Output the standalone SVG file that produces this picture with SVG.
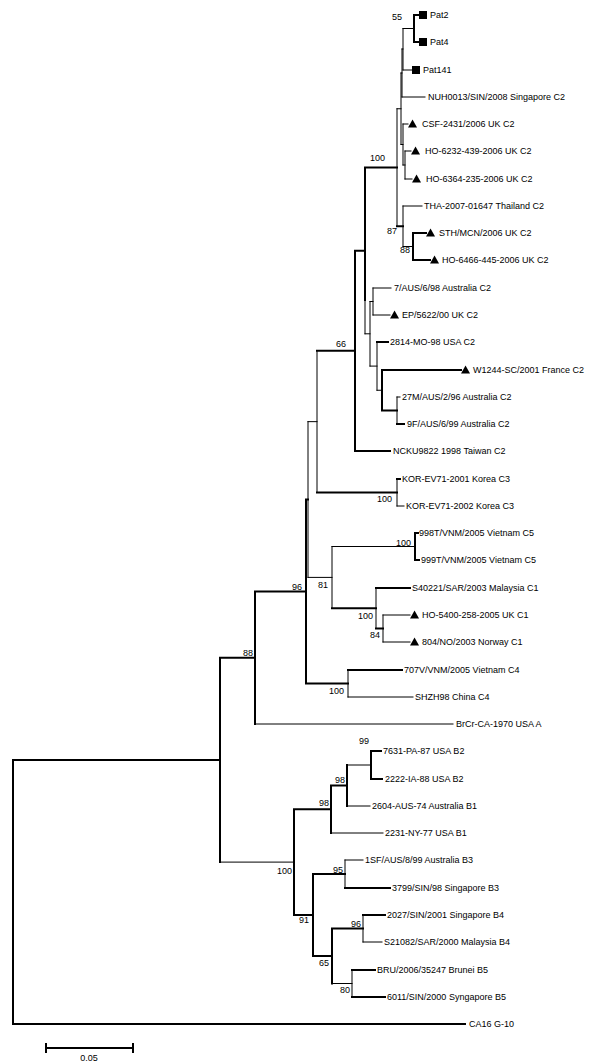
<svg xmlns="http://www.w3.org/2000/svg" width="600" height="1064" viewBox="0 0 600 1064">
<style>
text{font-family:"Liberation Sans",Arial,sans-serif;font-size:9px;fill:#000}
.bs{text-anchor:end}
path{fill:none;stroke:#000;stroke-linecap:square}
.k{stroke-width:2}
.n{stroke-width:1}
.m{fill:#000;stroke:none}
</style>
<defs>
<rect id="sq" class="m" x="0" y="-4" width="8" height="8"/>
<polygon id="tri" class="m" points="0,3.5 4.5,-4.5 9,3.5"/>
</defs>
<rect width="600" height="1064" fill="#fff"/>
<g id="connectors">
<!-- internal node verticals and joining horizontals -->
<path class="k" d="M414 15V42"/>
<path class="n" d="M403 28.5H414M403 28.5V70"/>
<path class="n" d="M402 49H403M402 49V97"/>
<path class="n" d="M401 73H402M401 73V144.5"/>
<path class="n" d="M403 124V165M401 144.5H403"/>
<path class="n" d="M405 151V179M403 165H405"/>
<path class="n" d="M397 108.75V226.25M397 108.75H401"/>
<path class="k" d="M397 226.25H403"/>
<path class="n" d="M403 206V246.5M403 246.5H413"/>
<path class="k" d="M413 233V260"/>
<path class="k" d="M365 167.5H397M365 167.5V300"/>
<path class="n" d="M365 300V333.8M365 333.8H370"/>
<path class="n" d="M370 301.5V366.1M370 301.5H373M373 288V315"/>
<path class="n" d="M370 366.1H377M377 342V390.25"/>
<path class="n" d="M377 390.25H382"/>
<path class="k" d="M382 370V410.5M382 410.5H397"/>
<path class="n" d="M397 397V424"/>
<path class="k" d="M355 250.65H365M355 250.65V451"/>
<path class="k" d="M317 350.8H355"/>
<path class="n" d="M317 350.8V492.5"/>
<path class="k" d="M317 492.5H397"/>
<path class="n" d="M397 479V506"/>
<path class="n" d="M308 421.65H317M308 421.65V577.4M308 577.4H332"/>
<path class="n" d="M332 546.5V608.25M332 546.5H415"/>
<path class="k" d="M415 533V560"/>
<path class="k" d="M332 608.25H376"/>
<path class="n" d="M376 588V628.5"/>
<path class="k" d="M376 628.5H383"/>
<path class="n" d="M383 615V642"/>
<path class="k" d="M306 499.5H308M306 499.5V683.5M306 683.5H348"/>
<path class="n" d="M348 670V697"/>
<path class="k" d="M255 591.5H306M255 591.5V724"/>
<path class="k" d="M220 657.75H255M220 657.75V862.1"/>
<path class="n" d="M220 862.1H294"/>
<path class="k" d="M294 809.25V915M294 809.25H331M331 785.5V833M331 785.5H347M347 765V806"/>
<path class="n" d="M347 765H371"/>
<path class="k" d="M371 751V779"/>
<path class="k" d="M294 915H313M313 874V956M313 874H345M313 956H332M332 928.5V983.5M332 928.5H363"/>
<path class="n" d="M345 860V888M363 915V942M332 983.5H352M352 970V997"/>
<path class="k" d="M13 759.9H220M13 759.9V1024"/>
<!-- terminal branches -->
<path class="k" d="M414 15H419M414 42H419"/>
<path class="n" d="M403 70H412M402 97H425M403 124H408M405 151H411M405 179H412M403 206H422"/>
<path class="k" d="M413 233H426M413 260H430"/>
<path class="n" d="M373 288H391M373 315H390"/>
<path class="k" d="M377 342H388M382 370H461"/>
<path class="n" d="M397 397H400"/>
<path class="k" d="M397 424H404M355 451H390M397 479H400"/>
<path class="n" d="M397 506H404"/>
<path class="k" d="M415 533H418M415 560H419M376 588H410"/>
<path class="n" d="M383 615H410M383 642H410"/>
<path class="k" d="M348 670H402"/>
<path class="n" d="M348 697H413M255 724H453"/>
<path class="k" d="M371 751H381M371 779H382"/>
<path class="n" d="M347 806H370M331 833H383M345 860H363"/>
<path class="k" d="M345 888H390M363 915H385"/>
<path class="n" d="M363 942H382"/>
<path class="k" d="M352 970H375M352 997H385M13 1024H465"/>
</g>
<g id="bootstrap">
<text class="bs" x="402" y="20">55</text>
<text class="bs" x="385" y="161">100</text>
<text class="bs" x="397" y="234">87</text>
<text class="bs" x="410" y="253">88</text>
<text class="bs" x="346" y="347">66</text>
<text class="bs" x="392" y="502">100</text>
<text class="bs" x="411" y="546">100</text>
<text class="bs" x="328" y="588">81</text>
<text class="bs" x="302" y="590">96</text>
<text class="bs" x="373" y="619">100</text>
<text class="bs" x="380" y="638">84</text>
<text class="bs" x="344" y="694">100</text>
<text class="bs" x="253" y="656">88</text>
<text class="bs" x="369" y="744">99</text>
<text class="bs" x="345" y="783">98</text>
<text class="bs" x="329" y="806">98</text>
<text class="bs" x="292" y="874">100</text>
<text class="bs" x="343" y="873">95</text>
<text class="bs" x="309" y="923">91</text>
<text class="bs" x="361" y="927">96</text>
<text class="bs" x="329" y="966">65</text>
<text class="bs" x="350" y="993">80</text>
</g>
<g id="leaf-pat2"><use href="#sq" x="419" y="15"/><text x="430" y="18">Pat2</text></g>
<g id="leaf-pat4"><use href="#sq" x="419" y="42"/><text x="430" y="45">Pat4</text></g>
<g id="leaf-pat141"><use href="#sq" x="412" y="70"/><text x="423" y="73">Pat141</text></g>
<g id="leaf-nuh0013"><text x="428" y="100">NUH0013/SIN/2008 Singapore C2</text></g>
<g id="leaf-csf2431"><use href="#tri" x="408" y="124"/><text x="422" y="127">CSF-2431/2006 UK C2</text></g>
<g id="leaf-ho6232"><use href="#tri" x="411" y="151"/><text x="425" y="154">HO-6232-439-2006 UK C2</text></g>
<g id="leaf-ho6364"><use href="#tri" x="412" y="179"/><text x="426" y="182">HO-6364-235-2006 UK C2</text></g>
<g id="leaf-tha"><text x="424" y="209">THA-2007-01647 Thailand C2</text></g>
<g id="leaf-sth"><use href="#tri" x="426" y="233"/><text x="439" y="236">STH/MCN/2006 UK C2</text></g>
<g id="leaf-ho6466"><use href="#tri" x="430" y="260"/><text x="442" y="263">HO-6466-445-2006 UK C2</text></g>
<g id="leaf-7aus"><text x="394" y="291">7/AUS/6/98 Australia C2</text></g>
<g id="leaf-ep5622"><use href="#tri" x="390" y="315"/><text x="402" y="318">EP/5622/00 UK C2</text></g>
<g id="leaf-2814"><text x="390" y="345">2814-MO-98 USA C2</text></g>
<g id="leaf-w1244"><use href="#tri" x="461" y="370"/><text x="473" y="373">W1244-SC/2001 France C2</text></g>
<g id="leaf-27m"><text x="402" y="400">27M/AUS/2/96 Australia C2</text></g>
<g id="leaf-9f"><text x="407" y="427">9F/AUS/6/99 Australia C2</text></g>
<g id="leaf-ncku"><text x="393" y="454">NCKU9822 1998 Taiwan C2</text></g>
<g id="leaf-kor2001"><text x="402" y="482">KOR-EV71-2001 Korea C3</text></g>
<g id="leaf-kor2002"><text x="406" y="509">KOR-EV71-2002 Korea C3</text></g>
<g id="leaf-998t"><text x="419" y="536">998T/VNM/2005 Vietnam C5</text></g>
<g id="leaf-999t"><text x="421" y="563">999T/VNM/2005 Vietnam C5</text></g>
<g id="leaf-s40221"><text x="412" y="591">S40221/SAR/2003 Malaysia C1</text></g>
<g id="leaf-ho5400"><use href="#tri" x="410" y="615"/><text x="422" y="618">HO-5400-258-2005 UK C1</text></g>
<g id="leaf-804"><use href="#tri" x="410" y="642"/><text x="422" y="645">804/NO/2003 Norway C1</text></g>
<g id="leaf-707v"><text x="404" y="673">707V/VNM/2005 Vietnam C4</text></g>
<g id="leaf-shzh98"><text x="415" y="700">SHZH98 China C4</text></g>
<g id="leaf-brcr"><text x="456" y="727">BrCr-CA-1970 USA A</text></g>
<g id="leaf-7631"><text x="383" y="754">7631-PA-87 USA B2</text></g>
<g id="leaf-2222"><text x="385" y="782">2222-IA-88 USA B2</text></g>
<g id="leaf-2604"><text x="372" y="809">2604-AUS-74 Australia B1</text></g>
<g id="leaf-2231"><text x="385" y="836">2231-NY-77 USA B1</text></g>
<g id="leaf-1sf"><text x="365" y="863">1SF/AUS/8/99 Australia B3</text></g>
<g id="leaf-3799"><text x="392" y="891">3799/SIN/98 Singapore B3</text></g>
<g id="leaf-2027"><text x="387" y="918">2027/SIN/2001 Singapore B4</text></g>
<g id="leaf-s21082"><text x="384" y="945">S21082/SAR/2000 Malaysia B4</text></g>
<g id="leaf-bru"><text x="377" y="973">BRU/2006/35247 Brunei B5</text></g>
<g id="leaf-6011"><text x="387" y="1000">6011/SIN/2000 Syngapore B5</text></g>
<g id="leaf-ca16"><text x="469" y="1027">CA16 G-10</text></g>
<g id="scale-bar">
<path class="k" d="M46 1048H133M46 1044V1052M133 1044V1052"/>
<text x="89" y="1061" text-anchor="middle">0.05</text>
</g>
</svg>
